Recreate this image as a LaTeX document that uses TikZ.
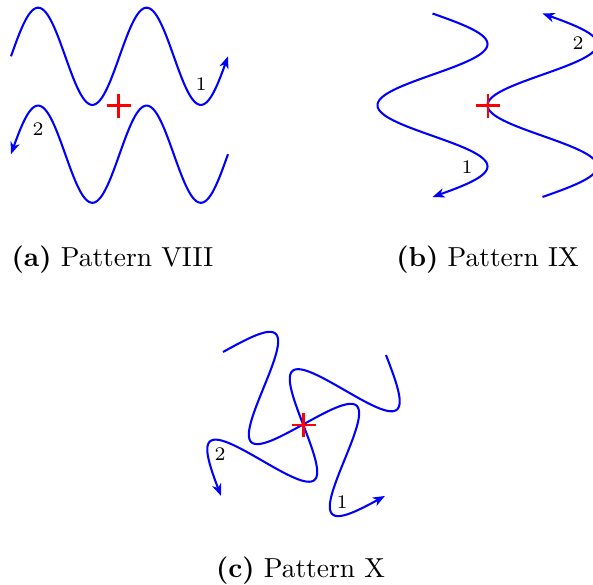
\documentclass[tikz,border=0pt]{standalone}
\usetikzlibrary{arrows.meta}
\begin{document}
\begin{tikzpicture}[x=0.36364pt,y=0.36364pt,
  wave/.style={blue,line width=0.75pt},
  tipend/.style={-{Stealth[length=4.4pt,width=3.4pt,inset=1.3pt]}},
  tipstart/.style={{Stealth[length=4.4pt,width=3.4pt,inset=1.3pt]}-},
  crossmark/.style={red,line width=1pt},
  lab/.style={font=\scriptsize,inner sep=0pt},
  captext/.style={anchor=base,inner sep=0pt}]
\useasboundingbox (0,0) rectangle (593,584);

% ---------- (a) Pattern VIII ----------
\begin{scope}[shift={(11,527.7)}]
  \draw[wave,tipend] plot[domain=0:217,samples=160,variable=\s] (\s,{48.6*sin(\s*(720/217))});
\end{scope}
\begin{scope}[shift={(228,429.8)},rotate=180]
  \draw[wave,tipend] plot[domain=0:217,samples=160,variable=\s] (\s,{48.6*sin(\s*(720/217))});
\end{scope}
\coordinate (ca) at (118.8,478.3);
\draw[crossmark] (ca) ++(-12,0) -- ++(24,0) (ca) ++(0,-12) -- ++(0,24);
\node[lab] (a1) at (201,500) {1};
\node[lab] (a2) at (38,455) {2};
\node[captext] (capa) at (112.5,318) {\textbf{(a)} Pattern VIII};

% ---------- (b) Pattern IX ----------
\begin{scope}[shift={(432.5,570.5)},rotate=-90]
  \draw[wave,tipend] plot[domain=0:183.5,samples=140,variable=\s] (\s,{55*sin(\s*(540/183.5))});
\end{scope}
\begin{scope}[shift={(542.5,570.5)},rotate=-90]
  \draw[wave,tipstart] plot[domain=0:183.5,samples=140,variable=\s] (\s,{55*sin(\s*(540/183.5))});
\end{scope}
\coordinate (cb) at (488,478.3);
\draw[crossmark] (cb) ++(-12,0) -- ++(24,0) (cb) ++(0,-12) -- ++(0,24);
\node[lab] (b1) at (467,417) {1};
\node[lab] (b2) at (578,541) {2};
\node[captext] (capb) at (487.5,318) {\textbf{(b)} Pattern IX};

% ---------- (c) Pattern X ----------
\begin{scope}[shift={(223,232)},rotate=-41.63]
  \draw[wave,tipend] plot[domain=0:216.7,samples=160,variable=\s] (\s,{48.6*sin(\s*(720/216.7))});
\end{scope}
\begin{scope}[shift={(386,229)},rotate=-139.5]
  \draw[wave,tipend] plot[domain=0:217,samples=160,variable=\s] (\s,{48.6*sin(\s*(720/217))});
\end{scope}
\coordinate (cc) at (303.5,159);
\draw[crossmark] (cc) ++(-12,0) -- ++(24,0) (cc) ++(0,-12) -- ++(0,24);
\node[lab] (c1) at (342,82) {1};
\node[lab] (c2) at (220,130) {2};
\node[captext] (capc) at (300.5,7) {\textbf{(c)} Pattern X};
\end{tikzpicture}
\end{document}
